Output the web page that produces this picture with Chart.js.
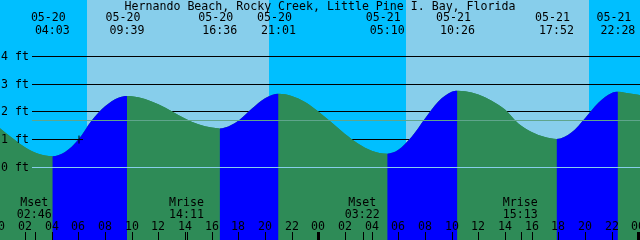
<!DOCTYPE html>
<html>
<head>
<meta charset="utf-8">
<script src="https://cdn.jsdelivr.net/npm/chart.js@4/dist/chart.umd.min.js"></script>
<style>
  html, body { margin: 0; padding: 0; background: #fff; overflow: hidden; }
  #wrap { width: 640px; height: 240px; }
</style>
</head>
<body>
<div id="wrap"><canvas id="tide" width="640" height="240"></canvas></div>
<script>
const title = 'Hernando Beach, Rocky Creek, Little Pine I. Bay, Florida';

// hours counted from 05-20 00:00, heights in feet
const tideHours = [0, 1, 2, 3, 4.05, 5, 6, 7, 8, 9, 9.65, 10, 11, 12, 13, 14, 15, 16, 16.6,
  17, 18, 19, 20, 21.017, 22, 23, 24, 25, 26, 27, 28, 29.167, 30, 31, 32, 33, 34, 34.433,
  35, 36, 37, 38, 39, 40, 41, 41.867, 43, 44, 45, 46, 46.467, 47, 48, 48.3];
const tideFeet = [1.46, 1.07, 0.72, 0.49, 0.40, 0.55, 1.00, 1.69, 2.20, 2.51, 2.57, 2.56, 2.46, 2.27, 2.02, 1.76, 1.55, 1.43, 1.40,
  1.43, 1.68, 2.11, 2.49, 2.65, 2.57, 2.35, 2.01, 1.61, 1.20, 0.85, 0.60, 0.49, 0.63, 1.10, 1.76, 2.37, 2.72, 2.76,
  2.74, 2.62, 2.40, 2.08, 1.58, 1.27, 1.09, 1.02, 1.26, 1.77, 2.33, 2.68, 2.72, 2.69, 2.61, 2.57];

const extremeDates = ['05-20', '05-20', '05-20', '05-20', '05-21', '05-21', '05-21', '05-21'];
const extremeTimes = ['04:03', '09:39', '16:36', '21:01', '05:10', '10:26', '17:52', '22:28'];

const sunriseHours = [6.65, 30.58];
const sunsetHours = [20.3, 44.3];

const moonNames = ['Mset', 'Mrise', 'Mset', 'Mrise'];
const moonTimes = ['02:46', '14:11', '03:22', '15:13'];
const moonDays = [0, 0, 1, 1];

const levelFeet = [0, 1, 2, 3, 4];
const meanFeet = 1.69;
const nowHour = 6.05;
const nowFeet = 1.0;
const hourTicks = [0, 2, 4, 6, 8, 10, 12, 14, 16, 18, 20, 22, 24, 26, 28, 30, 32, 34, 36, 38, 40, 42, 44, 46, 48];

const NIGHT = '#00bfff';
const DAY = '#87ceeb';
const EBB = '#2e8b57';
const FLOOD = '#0000ff';
const FONT = '11.6px "DejaVu Sans Mono", monospace';

function toHours(day, hhmm) {
  const [h, m] = hhmm.split(':').map(Number);
  return day * 24 + h + m / 60;
}

const px = (chart, h) => chart.scales.x.getPixelForValue(h);
const py = (chart, v) => chart.scales.y.getPixelForValue(v);

const backdrop = {
  id: 'backdrop',
  beforeDatasetsDraw(chart) {
    const c = chart.ctx;
    const { left, right, top, bottom } = chart.chartArea;
    c.save();
    c.fillStyle = NIGHT;
    c.fillRect(left, top, right - left, bottom - top);
    c.fillStyle = DAY;
    sunriseHours.forEach((r, i) => {
      const a = Math.round(px(chart, r));
      const b = Math.round(px(chart, sunsetHours[i]));
      c.fillRect(a, top, b - a, bottom - top);
    });
    // level lines sit behind the water
    c.fillStyle = '#000';
    levelFeet.filter(v => v > 0).forEach(v => {
      c.fillRect(32, Math.floor(py(chart, v)), right - 32, 1);
    });
    c.restore();
  },
  afterDatasetsDraw(chart) {
    const c = chart.ctx;
    const { right } = chart.chartArea;
    c.save();
    c.fillStyle = '#87ceeb';
    c.fillRect(32, Math.floor(py(chart, 0)), right - 32, 1);
    c.fillStyle = '#5fa58c';
    c.fillRect(32, Math.floor(py(chart, meanFeet)), right - 32, 1);

    c.font = FONT;
    c.fillStyle = '#000';
    c.textAlign = 'left';
    levelFeet.forEach(v => {
      c.fillText(v + ' ft', 1, Math.floor(py(chart, v)) + 4);
    });

    c.textAlign = 'center';
    c.fillText(title, 320, 10);
    extremeTimes.forEach((t, i) => {
      const day = extremeDates[i] === '05-21' ? 1 : 0;
      const x = px(chart, toHours(day, t));
      c.fillText(extremeDates[i], x - 4, 21);
      c.fillText(t, x, 34);
    });

    moonTimes.forEach((t, i) => {
      const x = px(chart, toHours(moonDays[i], t));
      c.fillText(moonNames[i], x - 1, 206);
      c.fillText(t, x - 1, 218);
      c.fillRect(Math.round(x), 232, 1, 8);
    });

    hourTicks.forEach(h => {
      const x = Math.round(px(chart, h));
      c.fillText(String(h % 24).padStart(2, '0'), x, 230);
      if (h % 24 === 0) c.fillRect(x - 1, 232, 3, 8);
      else c.fillRect(x, 232, 1, 8);
    });
    c.restore();
  }
};

const tidePoints = tideHours.map((h, i) => ({ x: h, y: tideFeet[i] }));

new Chart(document.getElementById('tide'), {
  type: 'line',
  data: {
    datasets: [
      {
        type: 'scatter',
        data: [{ x: nowHour, y: nowFeet }],
        pointStyle: 'cross',
        pointRadius: 4,
        borderColor: '#000',
        borderWidth: 1,
        order: 1
      },
      {
        // ebb / flood colouring
        data: tidePoints,
        borderWidth: 0,
        pointRadius: 0,
        fill: 'start',
        backgroundColor: EBB,
        cubicInterpolationMode: 'monotone',
        segment: {
          backgroundColor: s => s.p1.parsed.y > s.p0.parsed.y ? FLOOD : EBB
        },
        order: 2
      },
      {
        // plain water underneath so segment seams don't show
        data: tidePoints,
        borderWidth: 0,
        pointRadius: 0,
        fill: 'start',
        backgroundColor: EBB,
        cubicInterpolationMode: 'monotone',
        order: 3
      }
    ]
  },
  options: {
    responsive: false,
    animation: false,
    devicePixelRatio: 1,
    layout: { padding: 0, autoPadding: false },
    plugins: { legend: { display: false }, tooltip: { enabled: false } },
    scales: {
      x: { type: 'linear', display: false, min: 0.125, max: 48.125 },
      y: { display: false, min: -2.6198, max: 6.0288 }
    }
  },
  plugins: [backdrop]
});
</script>
</body>
</html>
